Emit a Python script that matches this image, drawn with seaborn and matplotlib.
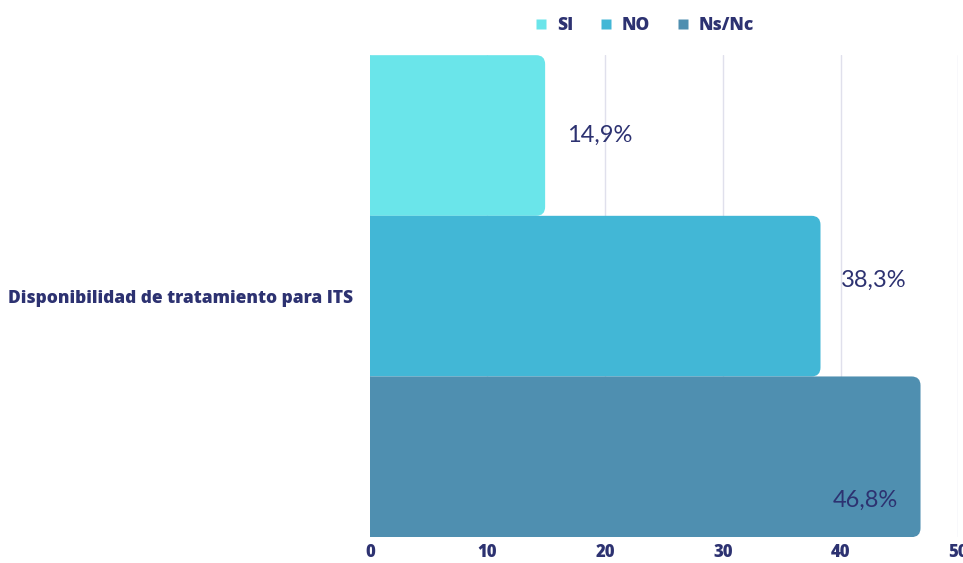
import pandas as pd
import matplotlib.pyplot as plt
import seaborn as sns
from matplotlib.path import Path
from matplotlib.patches import PathPatch

# data
category = ["Disponibilidad de tratamiento para ITS"]
answers = ["SI", "NO", "Ns/Nc"]
values = [14.9, 38.3, 46.8]
value_labels = ["14,9%", "38,3%", "46,8%"]
x_ticks = [0, 10, 20, 30, 40, 50]

colors = ["#6AE5EA", "#42B7D6", "#4F8FB0"]
navy = "#2D3271"

df = pd.DataFrame({
    "pregunta": category * len(answers),
    "respuesta": answers,
    "valor": values,
})


def right_rounded(x0, y0, w, h, rx, ry):
    # bar outline with only the right end rounded
    x1, y1 = x0 + w, y0 + h
    verts = [(x0, y0), (x1 - rx, y0), (x1, y0), (x1, y0 + ry),
             (x1, y1 - ry), (x1, y1), (x1 - rx, y1), (x0, y1), (x0, y0)]
    codes = [Path.MOVETO, Path.LINETO, Path.CURVE3, Path.CURVE3,
             Path.LINETO, Path.CURVE3, Path.CURVE3, Path.LINETO, Path.CLOSEPOLY]
    return Path(verts, codes)


sns.set_style("white")
plt.rcParams["font.family"] = ["Open Sans", "DejaVu Sans"]

fig = plt.figure(figsize=(9.63, 5.63), dpi=100, facecolor="white")
ax = fig.add_axes([0.384, 0.046, 0.611, 0.856])

sns.barplot(data=df, x="valor", y="pregunta", hue="respuesta", orient="h",
            palette=colors, width=0.8, ax=ax, legend=True, zorder=2,
            saturation=1)

ax.set_xlim(0, 50)
ax.set_ylim(0.4, -0.4)
ax.set_xticks(x_ticks)
ax.set_xticklabels([str(t) for t in x_ticks], fontsize=12, fontweight=800,
                   color=navy)
ax.tick_params(axis="x", length=0, pad=5)
ax.tick_params(axis="y", length=0, pad=12)
for lab in ax.get_yticklabels():
    lab.set_fontsize(12.5)
    lab.set_fontweight(800)
    lab.set_color(navy)
ax.set_xlabel("")
ax.set_ylabel("")
for s in ax.spines.values():
    s.set_visible(False)
ax.grid(axis="x", color="#E0E0EC", linewidth=1, zorder=0)
ax.set_axisbelow(True)

# rounded right corners on the bars
fig.canvas.draw()
bbox = ax.get_window_extent()
xpp = 50 / bbox.width
ypp = 0.8 / bbox.height
r_px = 9
bars = list(ax.patches)[:len(values)]
for bar, col in zip(bars, colors):
    bar.set_visible(False)
    p = right_rounded(bar.get_x(), bar.get_y(), bar.get_width(),
                      bar.get_height(), r_px * xpp, r_px * ypp)
    ax.add_patch(PathPatch(p, facecolor=col, edgecolor="none", zorder=2))

# value labels
lab_font = dict(fontsize=17, color=navy, fontweight="normal",
                family=["Lato", "DejaVu Sans"])
b = bars
ax.text(b[0].get_width() + 1.9, b[0].get_y() + b[0].get_height() / 2,
        value_labels[0], ha="left", va="center", zorder=3, **lab_font)
ax.text(b[1].get_width() + 1.7, b[1].get_y() + b[1].get_height() * 0.4,
        value_labels[1], ha="left", va="center", zorder=3, **lab_font)
ax.text(b[2].get_width() - 1.9, b[2].get_y() + b[2].get_height() * 0.77,
        value_labels[2], ha="right", va="center", zorder=3, **lab_font)

# legend
ax.get_legend().remove()
handles = [plt.Line2D([], [], marker="s", linestyle="none", markersize=7.5,
                      markerfacecolor=c, markeredgecolor="none") for c in colors]
leg = fig.legend(handles, answers, loc="center", bbox_to_anchor=(0.667, 0.955),
                 ncol=3, frameon=False, handletextpad=0.3, columnspacing=1.3,
                 handlelength=1.2, prop={"weight": 800, "size": 12.5})
for t in leg.get_texts():
    t.set_color(navy)

fig.savefig("out.png", dpi=100, facecolor="white")
